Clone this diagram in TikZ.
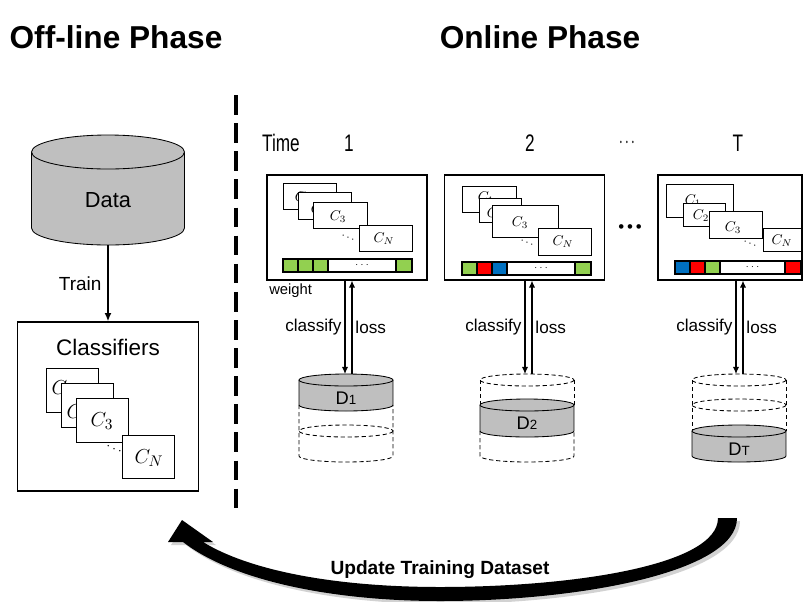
\documentclass[tikz,border=0pt]{standalone}
\usepackage{fontspec}
\setmainfont{Liberation Sans}
\newfontfamily\narrowfont[FakeStretch=0.72]{Liberation Sans}
\usepackage{xcolor}
\usepackage{graphicx}
\usetikzlibrary{arrows.meta, positioning}
\newlength\pxu
\setlength\pxu{0.025cm}
\definecolor{wgreen}{HTML}{92D050}
\definecolor{wred}{HTML}{FF0000}
\definecolor{wblue}{HTML}{0070C0}
\definecolor{dbgray}{HTML}{BFBFBF}
\newcommand{\updatearc}{(737,518) .. controls (737,572) and (580,601) .. (440,601)
    .. controls (330,601) and (232,580) .. (183,542) -- (168,542) -- (182,520)
    -- (213,542) -- (203,542) .. controls (252,572) and (340,587) .. (440,587)
    .. controls (570,587) and (718,566) .. (718,518) -- cycle}
\tikzset{
    phase title/.style={font=\fontsize{22.5}{27}\selectfont\bfseries},
    time label/.style={font=\narrowfont\fontsize{17}{20}\selectfont},
    box size/.style 2 args={minimum width=#1\pxu, minimum height=#2\pxu},
    panel box/.style={draw, line width=0.8pt, fill=white, inner sep=0pt},
    card/.style={draw, line width=0.6pt, fill=white, inner sep=0pt},
    small text/.style={inner sep=0pt, font=\fontsize{10}{12}\selectfont},
    big text/.style={inner sep=0pt, font=\fontsize{15}{18}\selectfont},
    card dots/.style={rotate=-25, inner sep=0pt},
    weight cell/.style={draw, line width=0.8pt},
    db fill/.style={fill=dbgray},
    db line/.style={line width=0.6pt},
    db dash/.style={line width=0.6pt, dash pattern=on 3pt off 2pt},
    db label/.style={font=\fontsize{13}{15}\selectfont},
    flow arrow/.style={-{Latex[length=5pt, width=4.5pt]}, line width=0.9pt},
    train arrow/.style={-{Latex[length=6pt, width=5pt]}, line width=1.3pt},
    arrow label/.style={font=\fontsize{12.2}{14}\selectfont, inner sep=2pt},
    phase divider/.style={line width=2.2pt, dash pattern=on 14pt off 6pt},
}

\begin{document}
\begin{tikzpicture}[x=0.025cm, y=-0.025cm]
    \useasboundingbox (0,0) rectangle (804,601);
    \clip (0,0) rectangle (804,601);

    % titles
    \node[phase title] (offtitle) at (116,37) {Off-line Phase};
    \node[phase title] (ontitle) at (540,37) {Online Phase};
    \draw[phase divider] (236,95) -- (236,513);

    % off-line phase
    \fill[db fill] (31.5,152) rectangle (184.5,228);
    \fill[db fill] (108,228) ellipse [x radius=76.5, y radius=17];
    \draw[db line] (31.5,152) -- (31.5,228)
        arc [start angle=180, end angle=0, x radius=76.5, y radius=17] -- (184.5,152);
    \draw[db line, db fill] (108,152) ellipse [x radius=76.5, y radius=17];
    \node[font=\fontsize{15.5}{18}\selectfont] (data) at (108,200) {Data};
    \coordinate (databot) at (108,245);

    \node[panel box, box size={181}{169}] (classifiers) at (108,406.5) {};
    \node[font=\fontsize{16}{19}\selectfont] (clstitle) at (108,347) {Classifiers};
    \draw[train arrow] (databot) -- node[arrow label, left, xshift=-2pt,
        font=\fontsize{13.5}{16}\selectfont] (trainlab) {Train} (classifiers.north);
    \node[card, box size={52}{44}] (cc1) at (72,390) {};
    \node[big text] (cc1t) at (63,389) {$C_1$};
    \node[card, box size={52}{44}] (cc2) at (87,405) {};
    \node[big text] (cc2t) at (78,413) {$C_2$};
    \node[card, box size={52}{44}] (cc3) at (102,420) {};
    \node[big text] (cc3t) at (102,421) {$C_3$};
    \node[card, box size={52}{43}] (ccn) at (148,456.5) {};
    \node[big text] (ccnt) at (149,458) {$C_N$};
    \node[card dots, font=\fontsize{10}{11}\selectfont] (ccdots) at (114,449) {$\cdots$};

    % time axis
    \node[time label] (time) at (281,143) {Time};
    \node[time label] (t1) at (349,143) {1};
    \node[time label] (t2) at (530,143) {2};
    \node[time label] (tdots) at (627,143) {\scalebox{0.55}[1]{$\cdots$}};
    \node[time label] (tT) at (738,143) {T};
    \node[font=\fontsize{12}{14}\selectfont] (mdots) at (630,229)
        {\textbullet\,\textbullet\,\textbullet};

    % panel 1
    \node[panel box, box size={160}{105}] (box1) at (347,227.5) {};
    \node[card, box size={53}{26}] (p1c1) at (309.5,196) {};
    \node[small text] (p1c1t) at (303,198) {$C_1$};
    \node[card, box size={53}{27}] (p1c2) at (324.5,205.5) {};
    \node[small text] (p1c2t) at (319,210) {$C_2$};
    \node[card, box size={54}{26}] (p1c3) at (340,215) {};
    \node[small text] (p1c3t) at (338,217) {$C_3$};
    \node[card, box size={53}{26}] (p1cn) at (385.5,238) {};
    \node[small text] (p1cnt) at (384,239) {$C_N$};
    \node[card dots, font=\fontsize{8}{9}\selectfont] (p1dots) at (348,238) {$\cdots$};
    \draw[weight cell, fill=wgreen] (283,259) rectangle (298,272);
    \draw[weight cell, fill=wgreen] (298,259) rectangle (313,272);
    \draw[weight cell, fill=wgreen] (313,259) rectangle (328,272);
    \draw[weight cell, fill=white] (328,259) rectangle (396,272);
    \draw[weight cell, fill=wgreen] (396,259) rectangle (412,272);
    \node[font=\fontsize{7}{8}\selectfont] (w1dots) at (362,265) {$\cdots$};
    \node[anchor=west, font=\fontsize{10.5}{12}\selectfont, inner sep=0pt] (wlab) at (269,291) {weight};

    % panel 2
    \node[panel box, box size={160}{105}] (box2) at (524.5,227.5) {};
    \node[card, box size={54}{26}] (p2c1) at (489,199) {};
    \node[small text] (p2c1t) at (486,198) {$C_1$};
    \node[card, box size={42}{24}] (p2c2) at (500,210) {};
    \node[small text] (p2c2t) at (495,214) {$C_2$};
    \node[card, box size={66}{32}] (p2c3) at (525,221) {};
    \node[small text] (p2c3t) at (520,223) {$C_3$};
    \node[card, box size={53}{27}] (p2cn) at (564.5,241.5) {};
    \node[small text] (p2cnt) at (563,242) {$C_N$};
    \node[card dots, font=\fontsize{8}{9}\selectfont] (p2dots) at (527,243) {$\cdots$};
    \draw[weight cell, fill=wgreen] (462,262) rectangle (477,275);
    \draw[weight cell, fill=wred] (477,262) rectangle (492,275);
    \draw[weight cell, fill=wblue] (492,262) rectangle (507,275);
    \draw[weight cell, fill=white] (507,262) rectangle (575,275);
    \draw[weight cell, fill=wgreen] (575,262) rectangle (591,275);
    \node[font=\fontsize{7}{8}\selectfont] (w2dots) at (541,268) {$\cdots$};

    % panel T
    \node[panel box, box size={144}{105}] (boxT) at (730,227.5) {};
    \node[card, box size={67}{33}] (pTc1) at (699.5,200.5) {};
    \node[small text] (pTc1t) at (693,201) {$C_1$};
    \node[card, box size={42}{23}] (pTc2) at (704,214.5) {};
    \node[small text] (pTc2t) at (701,216) {$C_2$};
    \node[card, box size={53}{27}] (pTc3) at (735.5,224.5) {};
    \node[small text] (pTc3t) at (733,228) {$C_3$};
    \node[card, box size={38}{23}] (pTcn) at (782,239.5) {};
    \node[small text] (pTcnt) at (782,241) {$C_N$};
    \node[card dots, font=\fontsize{8}{9}\selectfont] (pTdots) at (750,244) {$\cdots$};
    \draw[weight cell, fill=wblue] (675,261) rectangle (690,274);
    \draw[weight cell, fill=wred] (690,261) rectangle (705,274);
    \draw[weight cell, fill=wgreen] (705,261) rectangle (720,274);
    \draw[weight cell, fill=white] (720,261) rectangle (785,274);
    \draw[weight cell, fill=wred] (785,261) rectangle (801,274);
    \node[font=\fontsize{7}{8}\selectfont] (wTdots) at (752.5,267) {$\cdots$};

    % data buckets
    \fill[db fill] (299,380) rectangle (393,405);
    \fill[db fill] (346,405) ellipse [x radius=47, y radius=6];
    \draw[db line] (299,380) -- (299,405)
        arc [start angle=180, end angle=0, x radius=47, y radius=6] -- (393,380);
    \draw[db line, db fill] (346,380) ellipse [x radius=47, y radius=6];
    \draw[db dash] (299,405) -- (299,456)
        arc [start angle=180, end angle=0, x radius=47, y radius=6] -- (393,405);
    \draw[db dash] (346,431) ellipse [x radius=47, y radius=6];
    \node[db label] (d1) at (346,398) {D{\fontsize{9.5}{11}\selectfont 1}};

    \draw[db dash] (527,380) ellipse [x radius=47, y radius=6];
    \draw[db dash] (480,380) -- (480,405) (574,380) -- (574,405);
    \fill[db fill] (480,405) rectangle (574,431);
    \fill[db fill] (527,431) ellipse [x radius=47, y radius=6];
    \draw[db line] (480,405) -- (480,431)
        arc [start angle=180, end angle=0, x radius=47, y radius=6] -- (574,405);
    \draw[db line, db fill] (527,405) ellipse [x radius=47, y radius=6];
    \draw[db dash] (480,431) -- (480,456)
        arc [start angle=180, end angle=0, x radius=47, y radius=6] -- (574,431);
    \node[db label] (d2) at (527,423) {D{\fontsize{9.5}{11}\selectfont 2}};

    \draw[db dash] (739,380) ellipse [x radius=47, y radius=6];
    \draw[db dash] (739,405) ellipse [x radius=47, y radius=6];
    \draw[db dash] (692,380) -- (692,431) (786,380) -- (786,431);
    \fill[db fill] (692,431) rectangle (786,456);
    \fill[db fill] (739,456) ellipse [x radius=47, y radius=6];
    \draw[db line] (692,431) -- (692,456)
        arc [start angle=180, end angle=0, x radius=47, y radius=6] -- (786,431);
    \draw[db line, db fill] (739,431) ellipse [x radius=47, y radius=6];
    \node[db label] (dT) at (739,449) {D{\fontsize{9.5}{11}\selectfont T}};

    % classify / loss
    \coordinate (cls1) at (345,374);
    \coordinate (los1) at (352,374);
    \coordinate (cls2) at (525,374);
    \coordinate (los2) at (532,374);
    \coordinate (clsT) at (736,374);
    \coordinate (losT) at (743,374);
    \draw[flow arrow] (box1.south -| cls1) -- node[arrow label, left] (clslab1) {classify} (cls1);
    \draw[flow arrow] (los1) -- node[arrow label, right] (loslab1) {loss} (box1.south -| los1);
    \draw[flow arrow] (box2.south -| cls2) -- node[arrow label, left] (clslab2) {classify} (cls2);
    \draw[flow arrow] (los2) -- node[arrow label, right] (loslab2) {loss} (box2.south -| los2);
    \draw[flow arrow] (boxT.south -| clsT) -- node[arrow label, left] (clslabT) {classify} (clsT);
    \draw[flow arrow] (losT) -- node[arrow label, right] (loslabT) {loss} (boxT.south -| losT);

    % update loop
    \fill[black!35, opacity=0.5, shift={(3,3)}] \updatearc;
    \fill[black] \updatearc;
    \node[font=\fontsize{13.6}{16}\selectfont\bfseries] (updlab) at (440,570) {Update Training Dataset};
\end{tikzpicture}
\end{document}
